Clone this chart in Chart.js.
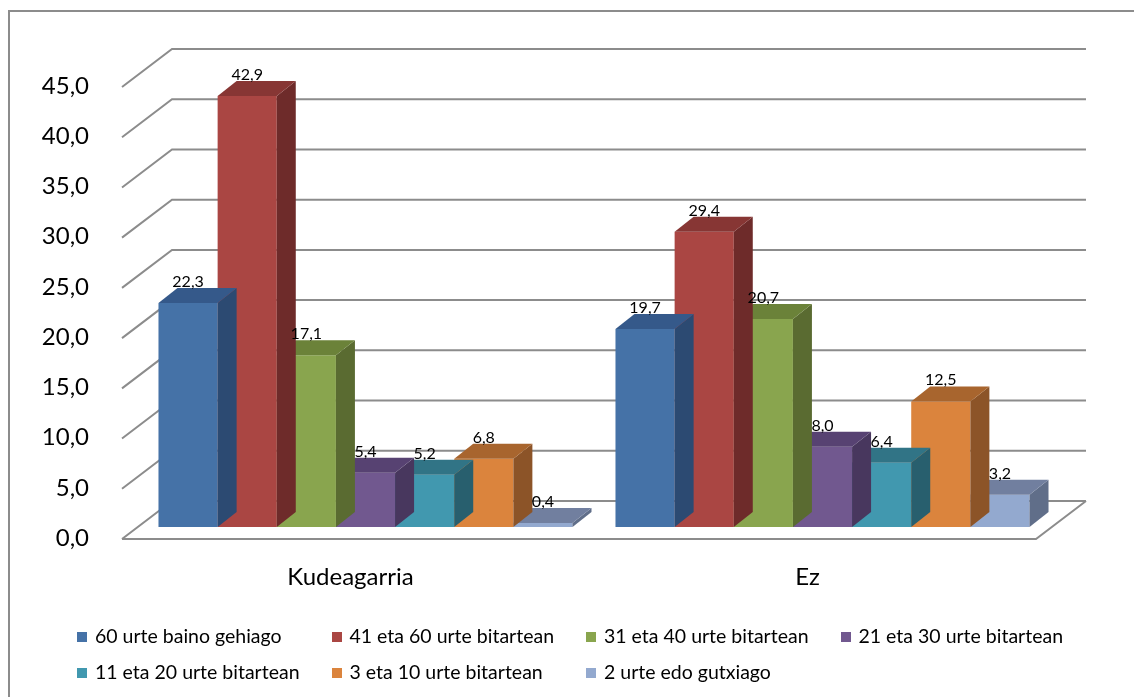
<!DOCTYPE html>
<html>
<head>
<meta charset="utf-8">
<script src="https://cdn.jsdelivr.net/npm/chart.js@4/dist/chart.umd.min.js"></script>
<style>
  html, body { margin: 0; padding: 0; background: #fff; }
  #wrap { position: relative; width: 1134px; height: 697px; overflow: hidden; }
  #frame { position: absolute; left: 8px; top: 10px; width: 1300px; height: 900px;
           border-left: 2px solid #8c8c8c; border-top: 2px solid #8c8c8c; }
  canvas { position: absolute; left: 0; top: 0; }
  #legend { position: absolute; left: 0; top: 0; width: 1134px; height: 697px;
            font-family: Lato, sans-serif; font-size: 19.5px; color: #000; }
  #legend .item { position: absolute; white-space: nowrap; line-height: 22px; }
  #legend .box { display: inline-block; width: 10px; height: 10px; margin-right: 8px; vertical-align: 1px; }
</style>
</head>
<body>
<div id="wrap">
  <div id="frame"></div>
  <canvas id="chart" width="1134" height="697"></canvas>
  <div id="legend"></div>
</div>
<script>
const categories = ['Kudeagarria', 'Ez'];
const seriesNames = [
  '60 urte baino gehiago',
  '41 eta 60 urte bitartean',
  '31 eta 40 urte bitartean',
  '21 eta 30 urte bitartean',
  '11 eta 20 urte bitartean',
  '3 eta 10 urte bitartean',
  '2 urte edo gutxiago'
];
const over60 = [22.3, 19.7];
const age41to60 = [42.9, 29.4];
const age31to40 = [17.1, 20.7];
const age21to30 = [5.4, 8.0];
const age11to20 = [5.2, 6.4];
const age3to10 = [6.8, 12.5];
const under2 = [0.4, 3.2];
const yTicks = [0, 5, 10, 15, 20, 25, 30, 35, 40, 45];

const frontColors = ['#4572a7', '#aa4643', '#89a54e', '#71588f', '#4198af', '#db843d', '#93a9cf'];
const topColors   = ['#35598a', '#873634', '#6b8239', '#574272', '#317486', '#a8652e', '#717f9f'];
const sideColors  = ['#2c4a72', '#6e2b2a', '#5a6b31', '#48375e', '#285f6e', '#8c5428', '#606e89'];

// 3d look: front plane offset from bar plane, depth of the floor, depth of a bar
const D = { fx: -15, fy: 12, dx: 50, dy: -38, bx: 19, by: -15 };

function fmt(v) {
  return v.toFixed(1).replace('.', ',');
}

const allValues = [over60, age41to60, age31to40, age21to30, age11to20, age3to10, under2];

const floor3d = {
  id: 'floor3d',
  beforeDatasetsDraw(chart) {
    const ctx = chart.ctx, a = chart.chartArea, y = chart.scales.y;
    const fl = a.left + D.fx, fr = a.right + D.fx;
    ctx.save();
    ctx.strokeStyle = '#8c8c8c';
    ctx.lineWidth = 2;
    yTicks.forEach(v => {
      const py = y.getPixelForValue(v) + D.fy;
      ctx.beginPath();
      ctx.moveTo(fl, py);
      ctx.lineTo(fl + D.dx, py + D.dy);
      ctx.lineTo(fr + D.dx, py + D.dy);
      ctx.stroke();
    });
    const y0 = y.getPixelForValue(0) + D.fy;
    ctx.beginPath();
    ctx.moveTo(fl, y0);
    ctx.lineTo(fr, y0);
    ctx.lineTo(fr + D.dx, y0 + D.dy);
    ctx.stroke();
    ctx.restore();
  },
  afterDatasetDraw(chart, args) {
    const ctx = chart.ctx;
    const i = args.index;
    ctx.save();
    args.meta.data.forEach(bar => {
      const p = bar.getProps(['x', 'y', 'base', 'width'], true);
      const xl = p.x - p.width / 2, xr = p.x + p.width / 2;
      ctx.fillStyle = sideColors[i];
      ctx.beginPath();
      ctx.moveTo(xr, p.y);
      ctx.lineTo(xr + D.bx, p.y + D.by);
      ctx.lineTo(xr + D.bx, p.base + D.by);
      ctx.lineTo(xr, p.base);
      ctx.closePath();
      ctx.fill();
      ctx.fillStyle = topColors[i];
      ctx.beginPath();
      ctx.moveTo(xl, p.y);
      ctx.lineTo(xl + D.bx, p.y + D.by);
      ctx.lineTo(xr + D.bx, p.y + D.by);
      ctx.lineTo(xr, p.y);
      ctx.closePath();
      ctx.fill();
    });
    ctx.restore();
  },
  afterDatasetsDraw(chart) {
    const ctx = chart.ctx;
    ctx.save();
    ctx.fillStyle = '#000';
    ctx.font = '16px Lato, sans-serif';
    ctx.textAlign = 'center';
    ctx.textBaseline = 'alphabetic';
    chart.data.datasets.forEach((ds, i) => {
      chart.getDatasetMeta(i).data.forEach((bar, j) => {
        const p = bar.getProps(['x', 'y'], true);
        ctx.fillText(fmt(ds.data[j]), p.x, p.y + D.by - 1);
      });
    });
    ctx.restore();
  }
};

const htmlLegend = {
  id: 'htmlLegend',
  afterUpdate(chart) {
    const box = document.getElementById('legend');
    box.innerHTML = '';
    chart.data.datasets.forEach((ds, i) => {
      const item = document.createElement('div');
      item.className = 'item';
      item.style.left = (77 + (i % 4) * 254.5) + 'px';
      item.style.top = (625 + Math.floor(i / 4) * 36) + 'px';
      const sw = document.createElement('span');
      sw.className = 'box';
      sw.style.background = ds.backgroundColor;
      item.appendChild(sw);
      item.appendChild(document.createTextNode(ds.label));
      box.appendChild(item);
    });
  }
};

new Chart(document.getElementById('chart'), {
  type: 'bar',
  data: {
    labels: categories,
    datasets: allValues.map((vals, i) => ({
      label: seriesNames[i],
      data: vals,
      backgroundColor: frontColors[i],
      borderWidth: 0
    }))
  },
  options: {
    responsive: false,
    animation: false,
    categoryPercentage: 0.906,
    barPercentage: 1.0,
    layout: { padding: { left: 0, top: 75, right: 83, bottom: 0 } },
    plugins: {
      legend: { display: false },
      tooltip: { enabled: false }
    },
    scales: {
      x: {
        grid: { display: false },
        border: { display: false },
        ticks: {
          color: '#000',
          font: { family: 'Lato, sans-serif', size: 24 },
          padding: 28,
          labelOffset: D.fx
        },
        afterFit(scale) { scale.height = 170; }
      },
      y: {
        min: 0,
        max: 45,
        grid: { display: false },
        border: { display: false },
        ticks: {
          stepSize: 5,
          color: '#000',
          font: { family: 'Lato, sans-serif', size: 24 },
          padding: 40,
          labelOffset: 11,
          callback: v => fmt(v)
        },
        afterFit(scale) { scale.width = 137; }
      }
    }
  },
  plugins: [floor3d, htmlLegend]
});
</script>
</body>
</html>
